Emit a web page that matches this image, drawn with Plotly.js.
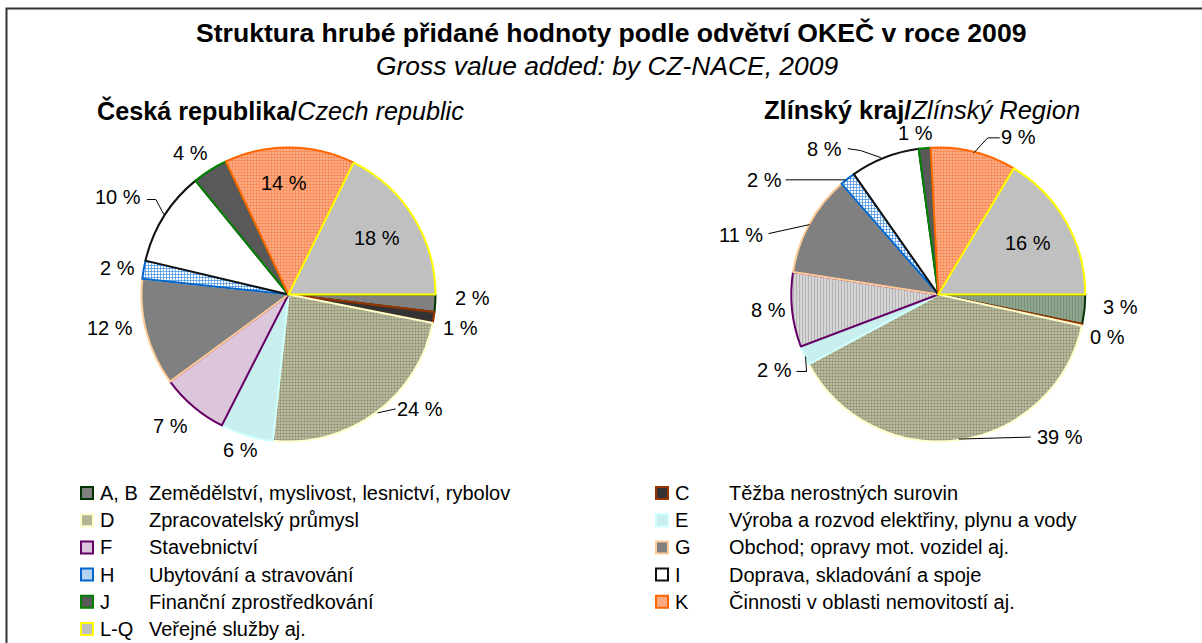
<!DOCTYPE html>
<html>
<head>
<meta charset="utf-8">
<script src="https://cdn.plot.ly/plotly-3.0.1.min.js"></script>
<style>html,body{margin:0;padding:0;background:#fff;}#chart{width:1202px;height:643px;}</style>
</head>
<body>
<div id="chart"></div>
<script>
// ---- data ----
const categories = ['A, B','C','D','E','F','G','H','I','J','K','L-Q'];
const descriptions = [
  'Zemědělství, myslivost, lesnictví, rybolov',
  'Těžba nerostných surovin',
  'Zpracovatelský průmysl',
  'Výroba a rozvod elektřiny, plynu a vody',
  'Stavebnictví',
  'Obchod; opravy mot. vozidel aj.',
  'Ubytování a stravování',
  'Doprava, skladování a spoje',
  'Finanční zprostředkování',
  'Činnosti v oblasti nemovitostí aj.',
  'Veřejné služby aj.'
];
const czValues = [1.9, 1.2, 23.6, 5.8, 7.4, 11.8, 2.0, 10.4, 3.9, 14.3, 17.7];
const zlValues = [3.2, 0.2, 38.7, 2.1, 8.2, 11.1, 1.7, 7.6, 1.3, 9.4, 16.4];
const titleText = 'Struktura hrubé přidané hodnoty podle odvětví OKEČ v roce 2009';
const subtitleText = 'Gross value added: by CZ-NACE, 2009';
const czHeading = '<b>Česká republika/</b><i>Czech republic</i>';
const zlHeading = '<b>Zlínský kraj/</b><i>Zlínský Region</i>';

// ---- styles ----
const W = 1202, H = 643;
const FONT = 'Liberation Sans, Arial, sans-serif';
const czFill = ['#808080','#333333','#b4b497','#c8eeee','#dcc6dc','#808080','#b5d3f2','#ffffff','#595959','#f8a982','#c0c0c0'];
const zlFill = ['#879c84','#333333','#b4b497','#c8eeee','#d2d2d2','#808080','#b5d3f2','#ffffff','#595959','#f8a982','#c0c0c0'];
const borders = ['#003300','#993300','#ffffcc','#ccffff','#660066','#ffcc99','#0066cc','#111111','#008000','#ff6600','#ffff00'];
const czPattern = {shape: ['','','.','','','','+','','','.',''],
  fgcolor: ['#000','#000','#8a8a6e','#000','#000','#000','#3a8ae0','#000','#000','#ff7a3a','#000'],
  bgcolor: ['#808080','#333333','#bdbda2','#c8eeee','#dcc6dc','#808080','#ffffff','#ffffff','#595959','#f9b08e','#c0c0c0'],
  size: 3, solidity: 0.4};
const zlPattern = {shape: ['|','','.','','|','','+','','','.',''],
  fgcolor: ['#78927a','#000','#8a8a6e','#000','#b4b4b4','#000','#3a8ae0','#000','#000','#ff7a3a','#000'],
  bgcolor: ['#92a68f','#333333','#bdbda2','#c8eeee','#d9d9d9','#808080','#ffffff','#ffffff','#595959','#f9b08e','#c0c0c0'],
  size: 3, solidity: 0.4};

const R = 147;
const pies = [
  {values: czValues, fill: czFill, pattern: czPattern, cx: 288.5, cy: 294.5,
   // per-label: [dx, dy] offset from slice edge point, or inside factor; optional leader (relative to edge point)
   lab: [
     {d:[37,-5]}, {d:[27,10.5]}, {d:[44,-4], lead:[[2,0],[20,-4]]}, {d:[-6,15]}, {d:[-23,19]},
     {d:[-37,-5]}, {d:[-26,-2]}, {d:[-46,-20], lead:[[0,-2],[-8,-17],[-17,-17]]}, {d:[-20,-17]},
     {k:0.75, d:[-6,-1]}, {k:0.7, d:[1,-2]}
   ]},
  {values: zlValues, fill: zlFill, pattern: zlPattern, cx: 938.3, cy: 294.5,
   lab: [
     {d:[36,-2]}, {d:[25,12]}, {d:[101,-3], lead:[[0,-1],[72,-3]]}, {d:[-30,15], lead:[[1,1],[2,16],[-8,16]]},
     {d:[-24,0]}, {d:[-69,11], lead:[[0,1],[-41,10]]}, {d:[-83,1], lead:[[-2,1],[-62,1]]},
     {d:[-60,-9], lead:[[-4,0],[-24,-7],[-37,-9]]}, {d:[-9,-15]}, {d:[45,-15], lead:[[0,1],[14,-14],[26,-14]]},
     {k:0.7, d:[0,-1]}
   ]}
];

const px = x => x / W;
const py = y => 1 - y / H;

const traces = [];
const annotations = [];
const shapes = [];

pies.forEach(p => {
  traces.push({
    type: 'pie', values: p.values, labels: categories, sort: false,
    direction: 'clockwise', rotation: 90, textinfo: 'none', hoverinfo: 'label+percent',
    showlegend: false,
    marker: {colors: p.fill, line: {color: borders, width: 2}, pattern: p.pattern},
    domain: {x: [px(p.cx - R), px(p.cx + R)], y: [py(p.cy + R), py(p.cy - R)]}
  });
  const total = p.values.reduce((a, b) => a + b, 0);
  let cum = 0;
  p.values.forEach((v, i) => {
    const mid = (cum + v / 2) / total * 2 * Math.PI;
    cum += v;
    const L = p.lab[i];
    const k = L.k || 1;
    const ex = p.cx + R * Math.cos(mid), ey = p.cy + R * Math.sin(mid);
    const bx = p.cx + R * k * Math.cos(mid), by = p.cy + R * k * Math.sin(mid);
    annotations.push({
      xref: 'paper', yref: 'paper', x: px(bx + L.d[0]), y: py(by + L.d[1]),
      xanchor: 'center', yanchor: 'middle', showarrow: false,
      text: Math.round(v / total * 100) + ' %', font: {family: FONT, size: 20, color: '#000'}
    });
    if (L.lead) {
      const path = L.lead.map((q, j) => (j ? 'L' : 'M') + px(ex + q[0]).toFixed(5) + ',' + py(ey + q[1]).toFixed(5)).join(' ');
      shapes.push({type: 'path', xref: 'paper', yref: 'paper', path: path, line: {color: '#000', width: 1}});
    }
  });
});

// titles
annotations.push({xref:'paper', yref:'paper', x: px(611), y: py(33), xanchor:'center', yanchor:'middle', showarrow:false,
  text: '<b>' + titleText + '</b>', font:{family: FONT, size: 26.6, color:'#000'}});
annotations.push({xref:'paper', yref:'paper', x: px(606.5), y: py(66), xanchor:'center', yanchor:'middle', showarrow:false,
  text: '<i>' + subtitleText + '</i>', font:{family: FONT, size: 26.4, color:'#000'}});
annotations.push({xref:'paper', yref:'paper', x: px(95), y: py(110), xanchor:'left', yanchor:'middle', showarrow:false,
  text: czHeading, font:{family: FONT, size: 25.2, color:'#000'}});
annotations.push({xref:'paper', yref:'paper', x: px(762), y: py(110), xanchor:'left', yanchor:'middle', showarrow:false,
  text: zlHeading, font:{family: FONT, size: 25.5, color:'#000'}});

// custom legend (two columns)
const legCols = [{mx: 87, cx: 98, dx: 147}, {mx: 662, cx: 673, dx: 727}];
const legY0 = 493, legStep = 27.2;
categories.forEach((c, i) => {
  const col = legCols[i % 2];
  const y = legY0 + Math.floor(i / 2) * legStep;
  shapes.push({type:'rect', xref:'paper', yref:'paper', x0: px(col.mx - 6), x1: px(col.mx + 6), y0: py(y + 6), y1: py(y - 6),
    fillcolor: czFill[i], line:{color: borders[i], width: 2}});
  annotations.push({xref:'paper', yref:'paper', x: px(col.cx), y: py(y), xanchor:'left', yanchor:'middle', showarrow:false,
    text: c, font:{family: FONT, size: 20, color:'#000'}});
  annotations.push({xref:'paper', yref:'paper', x: px(col.dx), y: py(y), xanchor:'left', yanchor:'middle', showarrow:false,
    text: descriptions[i], font:{family: FONT, size: 20, color:'#000'}});
});

// outer frame
shapes.push({type:'path', xref:'paper', yref:'paper',
  path: 'M' + px(6.5) + ',' + py(H + 5) + ' L' + px(6.5) + ',' + py(8.5) + ' L' + px(W + 5) + ',' + py(8.5),
  line:{color:'#333333', width: 2}});

const layout = {
  width: W, height: H, margin: {l:0, r:0, t:0, b:0},
  paper_bgcolor: '#ffffff', plot_bgcolor: '#ffffff',
  showlegend: false, annotations: annotations, shapes: shapes,
  font: {family: FONT}
};
Plotly.newPlot('chart', traces, layout, {displayModeBar: false, staticPlot: true});
</script>
</body>
</html>
